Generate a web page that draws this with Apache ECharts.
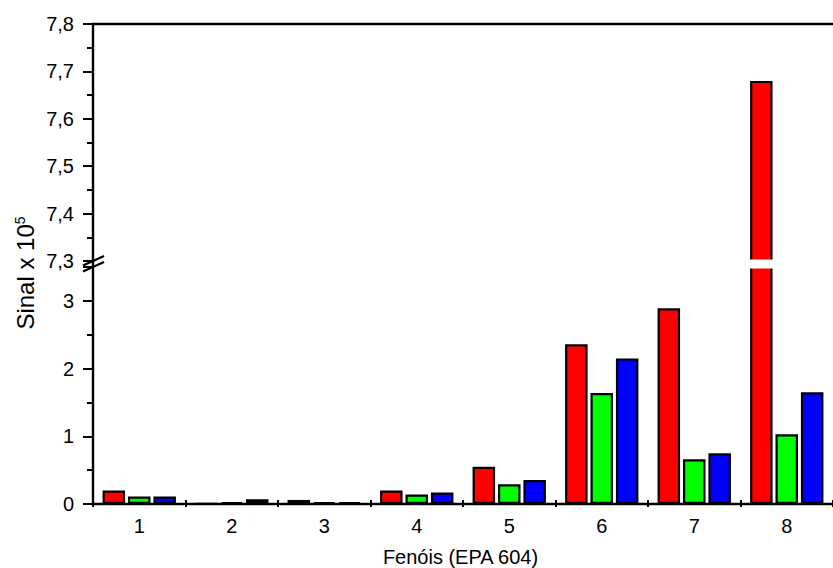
<!DOCTYPE html>
<html>
<head>
<meta charset="utf-8">
<script src="https://cdn.jsdelivr.net/npm/echarts@6/dist/echarts.min.js"></script>
<style>
  html, body { margin: 0; padding: 0; background: #fff; }
  #chart { width: 833px; height: 568px; }
</style>
</head>
<body>
<div id="chart"></div>
<script>
// Phenol signals (x 10^5) per compound, EPA method 604
const categories = ['1', '2', '3', '4', '5', '6', '7', '8'];
const redValues   = [0.20, 0.005, 0.06, 0.20, 0.55, 2.36, 2.89, 7.68];
const greenValues = [0.11, 0.03, 0.025, 0.14, 0.29, 1.64, 0.66, 1.03];
const blueValues  = [0.11, 0.07, 0.025, 0.17, 0.355, 2.15, 0.75, 1.65];

// Broken value axis: lower segment and upper segment
const lowerRange = [0, 3.5];
const upperRange = [7.3, 7.8];

const FONT = "'Liberation Sans', Arial, sans-serif";
const AXIS_LEFT = 93;

const chart = echarts.init(document.getElementById('chart'), null, { renderer: 'svg' });

const axisLineStyle = { color: '#000', width: 2.4 };
const tickLineStyle = { color: '#000', width: 2 };
const labelStyle = { color: '#000', fontSize: 20, fontFamily: FONT };

function barSeries(values, color, axisIdx) {
  return {
    type: 'bar',
    xAxisIndex: axisIdx,
    yAxisIndex: axisIdx,
    data: values,
    barWidth: 22.5,
    barGap: '13%',
    clip: true,
    itemStyle: { color: color, borderColor: '#000', borderWidth: 2.2 },
    emphasis: { disabled: true },
    animation: false
  };
}

const yCommon = {
  type: 'value',
  axisLine: { show: true, lineStyle: axisLineStyle },
  axisTick: { show: true, length: 10, lineStyle: tickLineStyle },
  minorTick: { show: true, splitNumber: 2, length: 6, lineStyle: tickLineStyle },
  splitLine: { show: false },
  axisLabel: Object.assign({ margin: 19 }, labelStyle)
};

chart.setOption({
  animation: false,
  grid: [
    { left: AXIS_LEFT, right: -10, top: 24, height: 237, show: false },
    { left: AXIS_LEFT, right: -10, top: 267, height: 237, show: false }
  ],
  xAxis: [
    {
      gridIndex: 0, type: 'category', data: categories, position: 'top',
      axisLine: { show: true, lineStyle: axisLineStyle },
      axisTick: { show: false }, axisLabel: { show: false }
    },
    {
      gridIndex: 1, type: 'category', data: categories, position: 'bottom',
      axisLine: { show: true, lineStyle: axisLineStyle },
      axisTick: { show: true, length: 3, lineStyle: tickLineStyle },
      axisLabel: Object.assign({ margin: 12 }, labelStyle),
      name: 'Fenóis (EPA 604)',
      nameLocation: 'middle',
      nameGap: 43,
      nameTextStyle: Object.assign({ padding: [0, 5, 0, 0] }, labelStyle)
    },
    {
      // inward half of the crossing category ticks
      gridIndex: 1, type: 'category', data: categories, position: 'bottom',
      axisLine: { show: false },
      axisTick: { show: true, inside: true, length: 4, lineStyle: tickLineStyle },
      axisLabel: { show: false }
    }
  ],
  yAxis: [
    Object.assign({}, yCommon, {
      gridIndex: 0, min: upperRange[0], max: upperRange[1], interval: 0.1,
      axisLabel: Object.assign({}, yCommon.axisLabel, {
        formatter: v => v.toFixed(1).replace('.', ',')
      })
    }),
    Object.assign({}, yCommon, {
      gridIndex: 1, min: lowerRange[0], max: lowerRange[1], interval: 1,
      axisLabel: Object.assign({}, yCommon.axisLabel, {
        showMaxLabel: false,
        formatter: v => (Number.isInteger(v) ? String(v) : '')
      })
    })
  ],
  series: [
    barSeries(redValues, '#ff0000', 1),
    barSeries(greenValues, '#00ff00', 1),
    barSeries(blueValues, '#0000ff', 1),
    barSeries(redValues, '#ff0000', 0),
    barSeries(greenValues, '#00ff00', 0),
    barSeries(blueValues, '#0000ff', 0)
  ]
});

// Axis break decoration between the two segments
const yBreakTop = chart.convertToPixel({ yAxisIndex: 0 }, upperRange[0]);
const yBreakBottom = chart.convertToPixel({ yAxisIndex: 1 }, lowerRange[1]);
const width = chart.getWidth();

function slash(yc) {
  return {
    type: 'line', z: 120,
    shape: { x1: AXIS_LEFT - 10, y1: yc + 4.5, x2: AXIS_LEFT + 11, y2: yc - 5 },
    style: { stroke: '#000', lineWidth: 2.2 }
  };
}

chart.setOption({
  graphic: [
    {
      type: 'rect', z: 110,
      shape: { x: AXIS_LEFT + 1.5, y: yBreakTop - 1.5, width: width, height: yBreakBottom - yBreakTop + 3 },
      style: { fill: '#fff' }
    },
    {
      type: 'line', z: 110,
      shape: { x1: AXIS_LEFT, y1: yBreakTop, x2: AXIS_LEFT, y2: yBreakBottom },
      style: { stroke: '#000', lineWidth: 2.4 }
    },
    slash(yBreakTop),
    slash(yBreakBottom),
    {
      type: 'text', z: 120,
      x: 25, y: 273, rotation: Math.PI / 2,
      style: {
        text: 'Sinal x 10{sup|5}',
        fill: '#000',
        font: '24px ' + FONT,
        align: 'center',
        verticalAlign: 'middle',
        rich: {
          sup: { fontSize: 14, fontFamily: FONT, fill: '#000', verticalAlign: 'top', lineHeight: 24 }
        }
      }
    }
  ]
});
</script>
</body>
</html>
